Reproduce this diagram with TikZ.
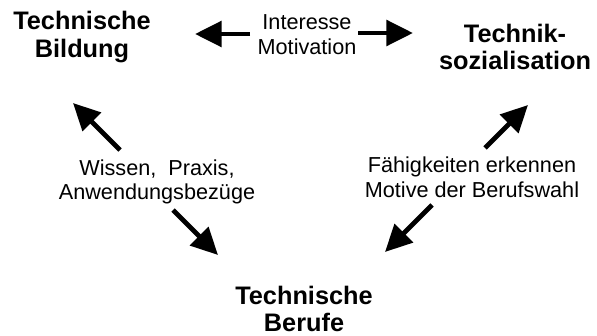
\documentclass[tikz,border=0pt]{standalone}
\usepackage{fontspec}
\setmainfont{Liberation Sans}
\usetikzlibrary{arrows.meta, positioning}
\tikzstyle{topic} = [font=\fontsize{18}{19.5}\selectfont\bfseries, align=center, inner sep=0pt]
\tikzstyle{linktext} = [font=\fontsize{15.4}{17.6}\selectfont, align=center, inner sep=0pt]
\tikzstyle{bigarrow} = [line width=3.5pt, -{Triangle[length=19pt,width=18pt]}]

\begin{document}
\begin{tikzpicture}[x=0.025cm, y=-0.025cm]
\useasboundingbox (0,0) rectangle (597,335);
\node[topic] (bildung) at (82,37) {Technische\\Bildung};
\node[topic] (sozial) at (515,47) {Technik-\\sozialisation};
\node[topic] (berufe) at (304,309) {Technische\\Berufe};
\node[linktext] (interesse) at (307,35) {Interesse\\Motivation};
\node[linktext] (wissen) at (157,182) {Wissen,~ Praxis,\\Anwendungsbezüge};
\node[linktext] (faehig) at (472,177) {Fähigkeiten erkennen\\Motive der Berufswahl};
\coordinate (l1) at (250,34);  \coordinate (l2) at (195,34);
\coordinate (r1) at (358,33);  \coordinate (r2) at (413,33);
\coordinate (wb1) at (120,150); \coordinate (wb2) at (73,103);
\coordinate (wt1) at (173,210); \coordinate (wt2) at (218,255);
\coordinate (fs1) at (485,148); \coordinate (fs2) at (528,105);
\coordinate (ft1) at (432,205); \coordinate (ft2) at (385,252);
\draw[bigarrow] (l1) -- (l2);
\draw[bigarrow] (r1) -- (r2);
\draw[bigarrow] (wb1) -- (wb2);
\draw[bigarrow] (wt1) -- (wt2);
\draw[bigarrow] (fs1) -- (fs2);
\draw[bigarrow] (ft1) -- (ft2);
\end{tikzpicture}
\end{document}
